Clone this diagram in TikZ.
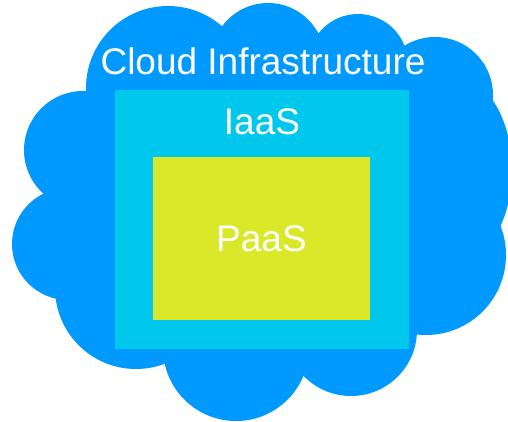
\documentclass[tikz,border=0pt]{standalone}
\usepackage{fontspec}
\setmainfont{Liberation Sans}
\definecolor{cloudblue}{RGB}{0,153,255}
\definecolor{iaascyan}{RGB}{0,200,236}
\definecolor{paasyellow}{RGB}{217,232,41}
\begin{document}
\begin{tikzpicture}[x=1pt,y=-1pt,
  lobe/.style={fill=cloudblue},
  layerbox/.style={draw=none,inner sep=0pt,outer sep=0pt},
  layertext/.style={text=white,font=\fontsize{37}{44}\selectfont},
  caption/.style={layertext,inner sep=0pt,anchor=base}]
\useasboundingbox (0,0) rectangle (508,422);
\clip (0,0) rectangle (508,422);
\fill[white] (0,0) rectangle (508,422);

% cloud: a body polygon plus round lobes
\fill[lobe] (92,95) -- (220,40) -- (317,45) -- (400,55) -- (478,105)
  -- (415,328) -- (304,365) -- (165,355) -- (62,292) -- (47,193) -- cycle;
\fill[lobe] (168,88) circle[radius=82pt];
\fill[lobe] (268,60) circle[radius=57pt];
\fill[lobe] (358,64) circle[radius=50pt];
\fill[lobe] (435,95) circle[radius=58pt];
\fill[lobe] (452,170) ellipse[x radius=60pt,y radius=95pt];
\fill[lobe] (426,255) circle[radius=80pt];
\fill[lobe] (351,330) circle[radius=66pt];
\fill[lobe] (236,348) circle[radius=73pt];
\fill[lobe] (136,288) circle[radius=81pt];
\fill[lobe] (68,244) circle[radius=56pt];
\fill[lobe] (83,150) circle[radius=59pt];

% service layers
\node[layerbox,fill=iaascyan,minimum width=294pt,minimum height=259pt]
  (iaasbox) at (262,219.5) {};
\node[layerbox,layertext,fill=paasyellow,minimum width=217pt,minimum height=163pt]
  (paas) at (261.5,238.5) {PaaS};

\node[caption] (iaas) at (262,135) {IaaS};
\node[caption] (cloud) at (263,75) {Cloud Infrastructure};
\end{tikzpicture}
\end{document}
